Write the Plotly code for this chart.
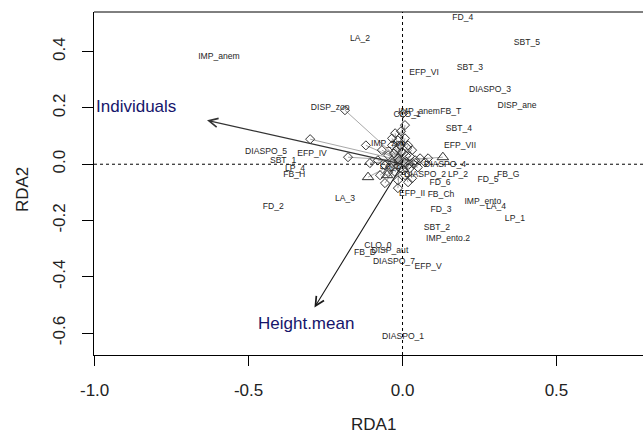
import plotly.graph_objects as go

# ---------------- data ----------------
species_labels = ["IMP_anem", "LA_2", "FD_4", "SBT_5", "EFP_VI", "SBT_3", "DIASPO_3", "DISP_ane",
                  "DISP_zoo", "IMP_anem", "FB_T", "CLO_1", "SBT_4", "EFP_VII", "IMP_zoo",
                  "DIASPO_5", "EFP_IV", "SBT_1", "LP_4", "FB_H", "FD_2", "LA_3", "LA_1",
                  "DIASPO_4", "DIASPO_2", "LP_2", "FD_6", "EFP_II", "FB_Ch", "FD_5", "FB_G",
                  "IMP_ento", "LA_4", "LP_1", "FD_3", "SBT_2", "IMP_ento.2", "CLO_0", "FB_D",
                  "DISP_aut", "DIASPO_7", "EFP_V", "DIASPO_1"]
species_x = [-0.596, -0.138, 0.196, 0.404, 0.070, 0.219, 0.284, 0.372,
             -0.235, 0.054, 0.157, 0.015, 0.183, 0.187, -0.047,
             -0.443, -0.294, -0.388, -0.349, -0.352, -0.420, -0.187, -0.041,
             0.138, 0.073, 0.180, 0.122, 0.031, 0.125, 0.278, 0.343,
             0.261, 0.304, 0.365, 0.125, 0.112, 0.148, -0.080, -0.122,
             -0.041, -0.028, 0.083, 0.002]
species_y = [0.380, 0.444, 0.519, 0.433, 0.323, 0.341, 0.266, 0.206,
             0.202, 0.185, 0.185, 0.174, 0.124, 0.067, 0.071,
             0.043, 0.036, 0.011, -0.018, -0.039, -0.153, -0.124, -0.011,
             -0.004, -0.039, -0.039, -0.067, -0.107, -0.110, -0.057, -0.036,
             -0.135, -0.153, -0.195, -0.163, -0.227, -0.266, -0.291, -0.316,
             -0.309, -0.348, -0.366, -0.615]

# site scores (diamonds)
site_x = [-0.300, -0.187, -0.119, -0.177, -0.106, -0.057,
          -0.024, -0.005, 0.002, -0.015, 0.008, -0.034, 0.018, 0.031, -0.021, -0.002,
          -0.047, 0.024, 0.041, 0.057, -0.015, 0.008, -0.034, -0.057, -0.008, 0.024,
          0.050, -0.024, 0.008, -0.047, -0.073, -0.015, -0.015, 0.018, 0.031, 0.073,
          0.083, -0.080, -0.067, -0.034, 0.008, -0.008,
          0.012, -0.012, 0.020, -0.028, 0.004, 0.036, -0.040, 0.015]
site_y = [0.089, 0.192, 0.067, 0.025, 0.004, -0.067,
          0.110, 0.117, 0.181, 0.085, 0.092, 0.067, 0.067, 0.050, 0.050, 0.043,
          0.032, 0.028, 0.014, 0.021, 0.021, 0.007, 0.004, -0.004, -0.014, -0.014,
          -0.011, -0.028, -0.039, -0.028, -0.039, -0.057, -0.085, -0.064, -0.050, 0.007,
          0.021, 0.014, 0.050, 0.092, 0.139, 0.067,
          0.030, 0.012, -0.002, 0.038, -0.022, 0.000, -0.010, 0.058]
# site scores (triangles)
tri_x = [0.131, -0.112, -0.050]
tri_y = [0.025, -0.046, -0.039]
# spider centre
centre_x, centre_y = -0.008, 0.014

# biplot arrows
arrow_names = ["Individuals", "Height.mean"]
arrow_x = [-0.635, -0.286]
arrow_y = [0.156, -0.509]
arrow_label_x = [-0.865, -0.313]
arrow_label_y = [0.206, -0.565]

x_ticks = [-1.0, -0.5, 0.0, 0.5]
x_ticktext = ["-1.0", "-0.5", "0.0", "0.5"]
y_ticks = [-0.6, -0.4, -0.2, 0.0, 0.2, 0.4]
y_ticktext = ["-0.6", "-0.4", "-0.2", "0.0", "0.2", "0.4"]

X_RANGE = [-1.002, 0.781]
Y_RANGE = [-0.678, 0.541]

FONT = "Liberation Sans, Arial, sans-serif"

fig = go.Figure()

# spider lines
sx, sy = [], []
for xx, yy in zip(site_x + tri_x, site_y + tri_y):
    sx += [centre_x, xx, None]
    sy += [centre_y, yy, None]
fig.add_trace(go.Scatter(x=sx, y=sy, mode="lines",
                         line=dict(color="#a8a8a8", width=1),
                         hoverinfo="skip", showlegend=False))

fig.add_trace(go.Scatter(x=site_x, y=site_y, mode="markers",
                         marker=dict(symbol="diamond-open", size=7, color="#333333",
                                     line=dict(width=1)),
                         showlegend=False))
fig.add_trace(go.Scatter(x=tri_x, y=tri_y, mode="markers",
                         marker=dict(symbol="triangle-up-open", size=10, color="#303030",
                                     line=dict(width=1)),
                         showlegend=False))

fig.add_trace(go.Scatter(x=species_x, y=species_y, mode="text", text=species_labels,
                         textposition="middle center",
                         textfont=dict(family=FONT, size=8.6, color="#262626"),
                         showlegend=False))

# zero lines (dotted)
fig.add_shape(type="line", xref="x", yref="paper", x0=0, x1=0, y0=0, y1=1,
              line=dict(color="black", width=1, dash="dot"))
fig.add_shape(type="line", xref="paper", yref="y", x0=0, x1=1, y0=0, y1=0,
              line=dict(color="black", width=1, dash="dot"))
# top border of box
fig.add_shape(type="line", xref="paper", yref="paper", x0=0, x1=1, y0=1, y1=1,
              line=dict(color="black", width=1))

# arrows
arrow_colors = ["#333333", "#1a1a1a"]
for nm, ax_, ay_, lx, ly, col in zip(arrow_names, arrow_x, arrow_y,
                                     arrow_label_x, arrow_label_y, arrow_colors):
    fig.add_annotation(x=ax_, y=ay_, ax=0, ay=0, xref="x", yref="y", axref="x", ayref="y",
                       showarrow=True, arrowhead=5, arrowsize=1.6, arrowwidth=1.1,
                       arrowcolor=col, text="")
    fig.add_annotation(x=lx, y=ly, xref="x", yref="y", text=nm, showarrow=False,
                       font=dict(family=FONT, size=17, color="#15156b"))

# axis titles
fig.add_annotation(x=0.51, y=-0.203, xref="paper", yref="paper", text="RDA1",
                   showarrow=False, font=dict(family=FONT, size=17, color="#222"),
                   xanchor="center", yanchor="middle")
fig.add_annotation(x=-0.131, y=0.481, xref="paper", yref="paper", text="RDA2",
                   showarrow=False, textangle=-90,
                   font=dict(family=FONT, size=17, color="#222"),
                   xanchor="center", yanchor="middle")

fig.update_xaxes(range=X_RANGE, tickvals=x_ticks, ticktext=x_ticktext,
                 showgrid=False, zeroline=False, showline=True, linecolor="black",
                 linewidth=1, ticks="outside", ticklen=10, tickcolor="black",
                 ticklabelstandoff=10,
                 tickfont=dict(family=FONT, size=17, color="#222"))
fig.update_yaxes(range=Y_RANGE, tickvals=y_ticks, ticktext=y_ticktext,
                 showgrid=False, zeroline=False, showline=True, linecolor="black",
                 linewidth=1, ticks="outside", ticklen=11, tickcolor="black",
                 tickangle=-90, ticklabelstandoff=10,
                 tickfont=dict(family=FONT, size=17, color="#222"))

fig.update_layout(width=643, height=435, margin=dict(l=94, r=0, t=12, b=80),
                  plot_bgcolor="white", paper_bgcolor="white", showlegend=False)

fig.write_html("out.html")
